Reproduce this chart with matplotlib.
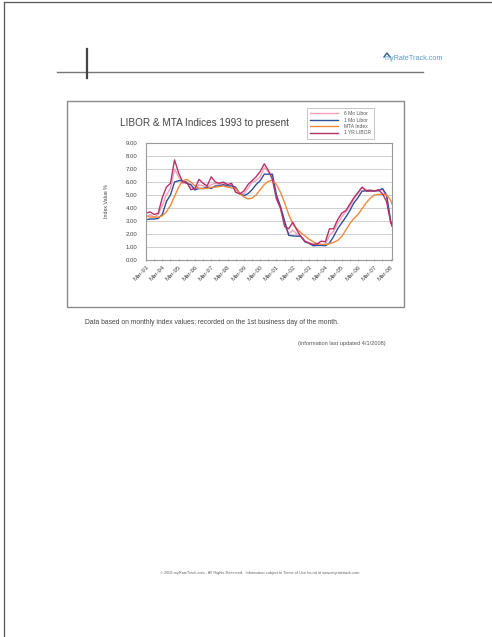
import matplotlib
matplotlib.use("Agg")
import matplotlib.pyplot as plt
from matplotlib.lines import Line2D
from matplotlib.patches import Rectangle

W, H = 492, 637

# months since Mar-93 (quarterly samples + last point Apr-08)
months = list(range(0, 181, 3)) + [181]

libor_6mo = [3.3, 3.5, 3.3, 3.5, 4.2, 5.0, 5.5, 7.0, 6.4, 5.9, 5.9, 5.6,
             5.4, 5.8, 5.7, 5.6, 5.8, 5.9, 5.8, 5.9, 5.8, 5.8, 5.4, 5.1,
             5.1, 5.5, 6.0, 6.1, 6.4, 7.1, 6.8, 6.4, 4.7, 3.9, 2.6, 2.0,
             2.3, 2.0, 1.8, 1.4, 1.25, 1.1, 1.2, 1.2, 1.2, 1.9, 2.2, 2.8,
             3.3, 3.7, 4.1, 4.7, 5.1, 5.6, 5.4, 5.4, 5.3, 5.4, 5.4, 4.9,
             3.0, 2.8]
libor_1mo = [3.1, 3.15, 3.15, 3.2, 3.5, 4.5, 5.0, 6.0, 6.1, 6.1, 5.9, 5.8,
             5.4, 5.5, 5.5, 5.6, 5.5, 5.7, 5.7, 5.8, 5.7, 5.7, 5.6, 5.1,
             4.95, 5.1, 5.4, 5.8, 6.1, 6.6, 6.6, 6.6, 5.0, 4.1, 3.0, 1.9,
             1.85, 1.84, 1.82, 1.4, 1.3, 1.1, 1.12, 1.12, 1.1, 1.3, 1.8, 2.4,
             2.85, 3.3, 3.8, 4.4, 4.8, 5.3, 5.32, 5.35, 5.32, 5.32, 5.5, 5.0,
             3.0, 2.7]
mta_index = [3.4, 3.3, 3.3, 3.3, 3.4, 3.7, 4.2, 4.9, 5.6, 6.1, 6.2, 6.0,
             5.7, 5.5, 5.5, 5.5, 5.6, 5.6, 5.65, 5.7, 5.6, 5.55, 5.5, 5.1,
             4.85, 4.7, 4.75, 5.0, 5.4, 5.8, 6.05, 6.15, 5.8, 5.2, 4.4, 3.5,
             2.8, 2.4, 2.1, 1.85, 1.6, 1.4, 1.25, 1.2, 1.2, 1.25, 1.35, 1.5,
             1.8, 2.3, 2.8, 3.2, 3.5, 3.95, 4.4, 4.75, 5.0, 5.05, 5.05, 5.0,
             4.6, 4.3]
libor_1yr = [3.6, 3.7, 3.5, 3.6, 4.8, 5.6, 5.9, 7.7, 6.7, 6.0, 6.0, 5.4,
             5.5, 6.2, 5.9, 5.7, 6.4, 6.0, 5.9, 6.0, 5.8, 5.9, 5.2, 5.1,
             5.3, 5.8, 6.1, 6.4, 6.8, 7.4, 6.9, 6.2, 4.7, 4.0, 2.6, 2.4,
             2.9, 2.3, 1.8, 1.45, 1.3, 1.2, 1.25, 1.45, 1.4, 2.4, 2.4, 3.1,
             3.6, 3.8, 4.3, 4.8, 5.2, 5.6, 5.3, 5.3, 5.3, 5.4, 5.1, 4.5,
             2.9, 2.6]

series_names = ["6 Mo Libor", "1 Mo Libor", "MTA Index", "1 YR LIBOR"]
series_colors = ["#f0a0b8", "#2f4f9a", "#f08a3c", "#b8306a"]

tick_months = list(range(0, 181, 12))
tick_labels = ["Mar-%02d" % (y % 100) for y in range(1993, 2009)]
y_ticks = list(range(0, 10))

plt.rcParams['font.family'] = ['Liberation Sans', 'DejaVu Sans']

fig = plt.figure(figsize=(W / 100, H / 100), dpi=100)
fig.patch.set_facecolor("white")


def fx(x):
    return x / W


def fy(y):
    return 1 - y / H


def fline(x0, y0, x1, y1, **kw):
    fig.add_artist(Line2D([fx(x0), fx(x1)], [fy(y0), fy(y1)], **kw))


# page border
fline(4, 2, 4, 637, color="#555555", lw=0.9)
fline(4, 2, 492, 2, color="#555555", lw=0.9)

# header rule + bar + logo
fline(57, 72, 423, 72, color="#777777", lw=1.0)
fline(87, 49, 87, 78, color="#444444", lw=1.6)
fig.text(fx(385), fy(59), "myRateTrack.com", fontsize=5.2, color="#5b9cc4",
         va="center", ha="left")
fig.add_artist(Line2D([fx(384), fx(387), fx(390)], [fy(57), fy(53), fy(57)],
                      color="#2b5a86", lw=1.0))

# chart box
fig.add_artist(Rectangle((fx(67), fy(307)), fx(404) - fx(67), fy(101) - fy(307),
                         fill=False, edgecolor="#8a8a8a", lw=1.0))

ax = fig.add_axes([fx(146), fy(260), fx(392) - fx(146), fy(143) - fy(260)])
for vals, name, col in zip([libor_6mo, libor_1mo, mta_index, libor_1yr],
                           series_names, series_colors):
    ax.plot(months, vals, color=col, lw=1.0, label=name)

ax.set_xlim(0, 181)
ax.set_ylim(0, 9)
ax.set_yticks(y_ticks)
ax.set_yticklabels(["%.2f" % v for v in y_ticks], fontsize=4.3, color="#444444")
ax.set_xticks(tick_months)
ax.set_xticklabels(tick_labels, rotation=45, ha="right", rotation_mode="anchor",
                   fontsize=4.4, color="#444444")
ax.set_xticks(range(0, 182, 6), minor=True)
ax.tick_params(axis="x", which="both", length=2, width=0.5, color="#888888",
               direction="inout", pad=2)
ax.tick_params(axis="y", length=0, pad=6)
ax.grid(axis="y", color="#c8c8c8", lw=0.6)
ax.set_axisbelow(True)
for sp in ax.spines.values():
    sp.set_color("#999999")
    sp.set_linewidth(0.8)
ax.set_ylabel("Index Value %", fontsize=3.8, color="#444444", labelpad=12)

fig.text(fx(204), fy(123), "LIBOR & MTA Indices 1993 to present", fontsize=7.2,
         color="#444444", ha="center", va="center")

leg = fig.legend(loc="upper left", bbox_to_anchor=(fx(307), fy(108)),
                 fontsize=3.6, frameon=True, fancybox=False, handlelength=5.5,
                 borderpad=0.6, labelspacing=0.3, handletextpad=1.2,
                 borderaxespad=0)
leg.get_frame().set_edgecolor("#aaaaaa")
leg.get_frame().set_linewidth(0.6)
for t in leg.get_texts():
    t.set_color("#555555")

fig.text(fx(85), fy(323),
         "Data based on monthly index values; recorded on the 1st business day of the month.",
         fontsize=4.9, color="#444444", va="center", ha="left")
fig.text(fx(386), fy(344), "(information last updated 4/1/2008)", fontsize=4.1,
         color="#555555", va="center", ha="right")
fig.text(fx(260), fy(573),
         "\u00a9 2008 myRateTrack.com - All Rights Reserved.  Information subject to Terms of Use found at www.myratetrack.com",
         fontsize=2.8, color="#666666", va="center", ha="center")

fig.savefig("out.png", dpi=100)
